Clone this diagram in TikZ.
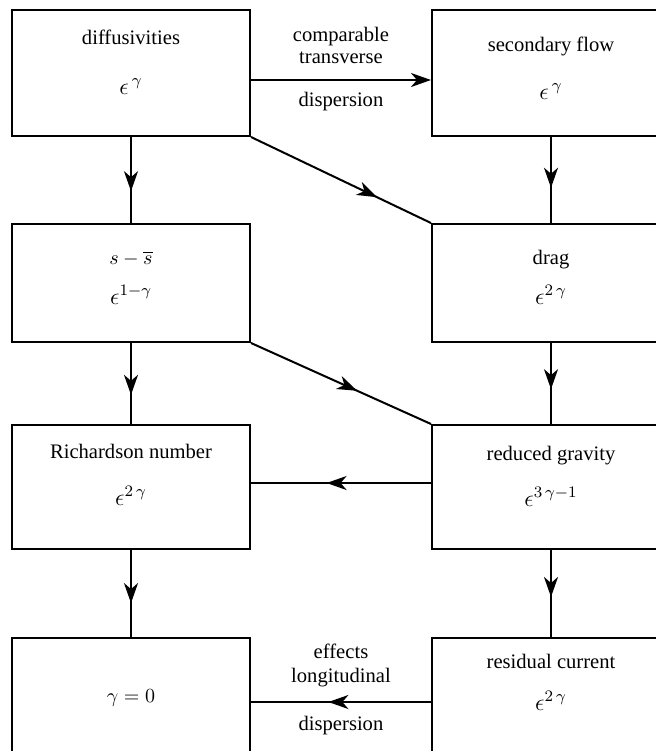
\documentclass[tikz,border=0pt]{standalone}
\usepackage{fontspec}
\setmainfont{Liberation Serif}
\usetikzlibrary{arrows.meta,positioning,calc,decorations.markings}

\begin{document}
\begin{tikzpicture}[
  x=0.5pt,y=-0.5pt,
  font=\fontsize{10.3}{12}\selectfont,
  line width=1pt,
  >={Stealth[length=10pt,width=7pt,inset=3pt]},
  box/.style={draw,minimum width=119pt,inner sep=0pt},
  txt/.style={anchor=base,inner sep=0pt},
  ordtxt/.style={txt,font=\fontsize{11.5}{13}\selectfont},
  elabel/.style={align=center,inner sep=0pt,midway},
  link/.style={postaction={decorate},
    decoration={markings,mark=at position #1 with {\arrow{>}}}},
  link/.default=0.6
]
  \path[use as bounding box] (0,0) rectangle (656,751);
  \clip (0,0) rectangle (656,751);

  % left column
  \node[box,minimum height=63pt] (diff) at (131,73) {};
  \node[box,minimum height=59pt,below=43pt of diff] (sdev) {};
  \node[box,minimum height=62pt,below=40.5pt of sdev] (rich) {};
  \node[box,minimum height=64pt,below=43.5pt of rich] (zero) {};
  % right column (runs off the page)
  \node[box,minimum height=63pt,right=90pt of diff] (sec) {};
  \node[box,minimum height=59pt,right=90pt of sdev] (drag) {};
  \node[box,minimum height=62pt,right=90pt of rich] (grav) {};
  \node[box,minimum height=64pt,right=90pt of zero] (res) {};

  % name and order of each box, baselines in px below the top
  \foreach \bx/\nm/\ord/\dn/\dm in {
      diff/diffusivities/{$\epsilon^{\,\gamma}$}/35/85,
      sec/secondary flow/{$\epsilon^{\,\gamma}$}/42/90,
      sdev/{$s - \overline{s}$}/{$\epsilon^{1-\gamma}$}/41/81,
      drag/drag/{$\epsilon^{2\,\gamma}$}/41/81,
      rich/Richardson number/{$\epsilon^{2\,\gamma}$}/34/81,
      grav/reduced gravity/{$\epsilon^{3\,\gamma-1}$}/36/82,
      res/residual current/{$\epsilon^{2\,\gamma}$}/31/73}{
    \node[txt] (\bx-name) at ($(\bx.north)+(0,\dn)$) {\nm};
    \node[ordtxt] (\bx-ord) at ($(\bx.north)+(0,\dm)$) {\ord};
  }
  \node[txt] (zero-name) at ($(zero.north)+(0,65)$) {$\gamma = 0$};

  % connectors
  \draw[->] ($(diff.east)+(0,7)$) -- ($(sec.west)+(0,7)$)
    node[elabel,above=7.5pt] (trans) {comparable\\[-1pt]transverse}
    node[elabel,below=5.7pt] (trans-d) {dispersion};
  \draw[link=0.63] (diff) -- (sdev);
  \draw[link=0.59] (sec) -- (drag);
  \draw[link=0.70] (diff.south east) -- (drag.north west);
  \draw[link=0.64] (sdev) -- (rich);
  \draw[link=0.57] (drag) -- (grav);
  \draw[link=0.59] (sdev.south east) -- (grav.north west);
  \draw[link=0.58] ($(grav.west)+(0,-4)$) -- ($(rich.east)+(0,-4)$);
  \draw[link=0.61] (rich) -- (zero);
  \draw[link=0.54] (grav) -- (res);
  \draw[link=0.57] (res) -- (zero)
    node[elabel,above=6.8pt] (longi) {effects\\longitudinal}
    node[elabel,below=6.7pt] (longi-d) {dispersion};
\end{tikzpicture}
\end{document}
